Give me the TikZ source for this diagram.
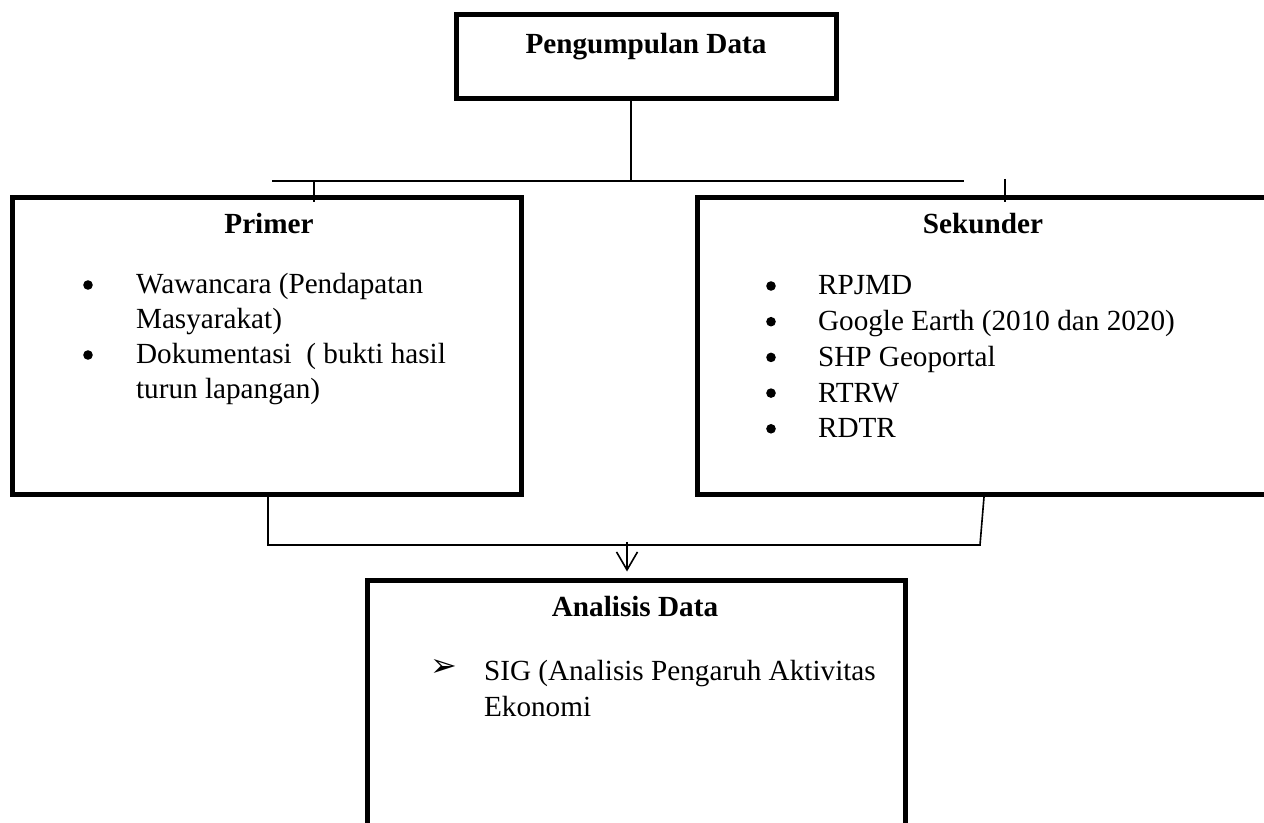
\documentclass[tikz,border=0pt]{standalone}
\usepackage{fontspec}
\setmainfont{Liberation Serif}
\newfontfamily\dejavu{DejaVu Sans}
\usepackage{tikz}
\usetikzlibrary{arrows.meta}

\tikzset{
	box/.style={draw, line width=2.5pt, inner sep=0pt},
	wire/.style={line width=1pt},
	thinwire/.style={line width=0.8pt},
	head/.style={anchor=base, font=\fontsize{14.6pt}{17pt}\selectfont\bfseries},
	item/.style={anchor=base west, font=\fontsize{14.6pt}{17pt}\selectfont},
	bul/.style={circle, fill, inner sep=0pt, minimum size=4.8pt},
}

\begin{document}
\begin{tikzpicture}[x=0.5pt,y=-0.5pt]

	\useasboundingbox (0,0) rectangle (1264,823);
	\clip (0,0) rectangle (1264,823);

	% boxes
	\node[box, minimum width=190pt, minimum height=42pt] (top) at (646,57) {};
	\node[box, minimum width=254.5pt, minimum height=148.5pt] (prim) at (267,346) {};
	\node[box, minimum width=289pt, minimum height=148.5pt] (sek) at (986,346) {};
	\node[box, minimum width=269pt, minimum height=135pt] (anl) at (636.5,715) {};

	% headings
	\node[head] (ttop) at (646,54) {Pengumpulan Data};
	\node[head] (tprim) at (269,234) {Primer};
	\node[head] (tsek) at (983,234) {Sekunder};
	\node[head] (tanl) at (635,616) {Analisis Data};

	% primer items
	\node[bul] (pb1) at (88,285) {};
	\node[item] (p1) at (129,294) {Wawancara (Pendapatan};
	\node[item] (p1b) at (129,329) {Masyarakat)};
	\node[bul] (pb2) at (88,355) {};
	\node[item] (p2) at (129,364) {Dokumentasi\ \ ( bukti hasil};
	\node[item] (p2b) at (129,399) {turun lapangan)};

	% sekunder items
	\foreach \t [count=\i from 0] in {RPJMD, Google Earth (2010 dan 2020), SHP Geoportal, RTRW, RDTR}{
		\node[bul] (sb\i) at (771,286+35.7*\i) {};
		\node[item] (s\i) at (811,295+35.7*\i) {\t};
	}

	% analisis item
	\node[font=\fontsize{16pt}{18pt}\selectfont\dejavu] (ab) at (444,668) {➢};
	\node[item] (a1) at (477,680) {SIG (Analisis Pengaruh Aktivitas};
	\node[item] (a1b) at (477,716) {Ekonomi};

	% connectors
	\coordinate (hub) at (631,181);
	\coordinate (busl) at (272,181);
	\coordinate (busr) at (964,181);
	\coordinate (tl) at (314,181);
	\coordinate (tr) at (1005,179);
	\draw[wire] (top.south -| hub) -- (hub);
	\draw[wire] (busl) -- (busr);
	\draw[wire] (tl) -- ++(0,21);
	\draw[wire] (tr) -- ++(0,23);

	\coordinate (jl) at (268,545);
	\coordinate (jr) at (980,545);
	\coordinate (jm) at (627,545);
	\coordinate (sr) at (984,497);
	\draw[thinwire] (prim.south -| jl) -- (jl) -- (jr) -- (sr);
	\draw[thinwire, -{Straight Barb[length=9pt,width=10.5pt]}, shorten <=-1.5pt, shorten >=3pt] (jm) -- (anl.north -| jm);

\end{tikzpicture}
\end{document}
